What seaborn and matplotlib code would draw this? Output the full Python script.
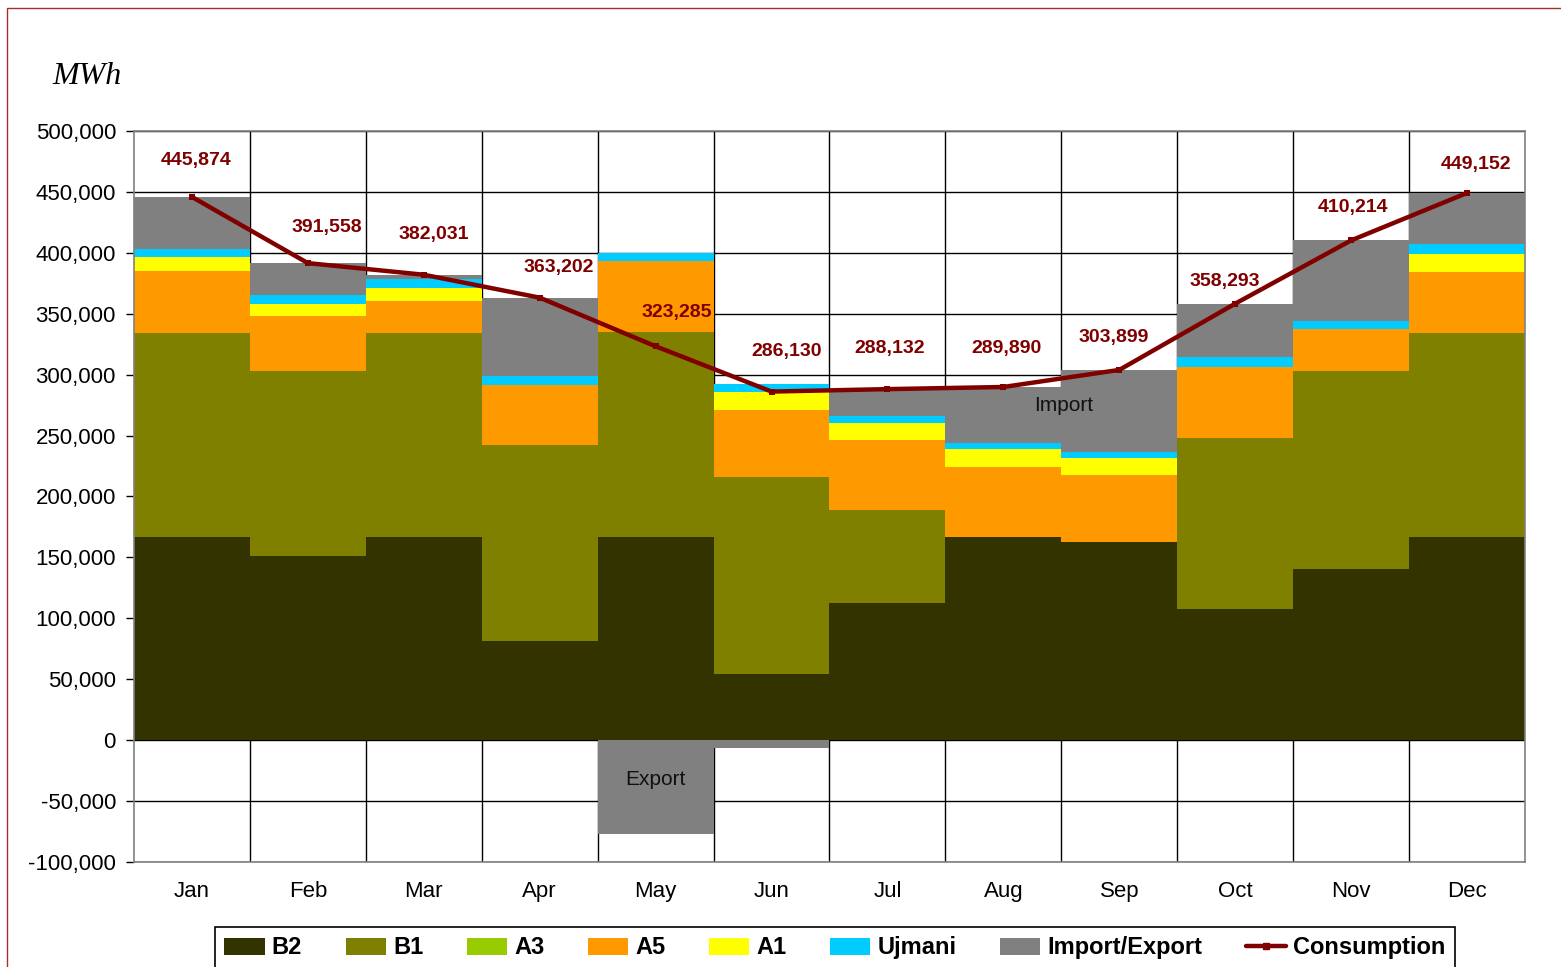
import numpy as np
import pandas as pd
import seaborn as sns
import matplotlib
matplotlib.use('Agg')
import matplotlib.pyplot as plt
from matplotlib.ticker import FuncFormatter, MultipleLocator
from matplotlib.patches import Patch, Rectangle
from matplotlib.lines import Line2D

# monthly energy balance (MWh)
months = ['Jan', 'Feb', 'Mar', 'Apr', 'May', 'Jun', 'Jul', 'Aug', 'Sep', 'Oct', 'Nov', 'Dec']
b2 = [166800, 151200, 166800, 81300, 166800, 54200, 112600, 166800, 162700, 107600, 140500, 166800]
b1 = [167600, 152000, 167600, 161100, 167900, 161900, 76400, 0, 0, 140600, 162700, 167600]
a3 = [0, 0, 0, 0, 0, 0, 0, 0, 0, 0, 0, 0]
a5 = [51000, 45200, 26300, 49300, 58300, 55100, 57500, 57500, 55000, 57700, 34500, 50200]
a1 = [11500, 9900, 10700, 0, 0, 14200, 14200, 14800, 14000, 0, 0, 14700]
ujmani = [6500, 6800, 7400, 7400, 6900, 7100, 5500, 4700, 4900, 8200, 6600, 8300]
consumption = [445874, 391558, 382031, 363202, 323285, 286130, 288132, 289890, 303899, 358293, 410214, 449152]

series_names = ['B2', 'B1', 'A3', 'A5', 'A1', 'Ujmani']
series_vals = [b2, b1, a3, a5, a1, ujmani]
colors = ['#333300', '#808000', '#99CC00', '#FF9900', '#FFFF00', '#00CCFF']
imp_color = '#808080'
line_color = '#800000'

df = pd.DataFrame(dict(zip(series_names, series_vals)), index=months)
df['Consumption'] = consumption
# import/export closes the balance against consumption
df['Import/Export'] = df['Consumption'] - df[series_names].sum(axis=1)

# label offsets (pixels) for the consumption values
lab_dx = [4, 19, 10, 19, 21, 15, 2, 3, -6, -10, 2, 9]
lab_dy = [36, 36, 40, 30, 34, 40, 41, 38, 32, 22, 33, 28]

sns.set_style('white')
plt.rcParams['font.family'] = ['Liberation Sans', 'DejaVu Sans']
plt.rcParams['text.color'] = 'black'
plt.rcParams['xtick.color'] = 'black'
plt.rcParams['ytick.color'] = 'black'

fig = plt.figure(figsize=(15.61, 9.67), dpi=100)
ax = fig.add_axes([134 / 1561, 1 - 862 / 967, (1525 - 134) / 1561, (862 - 131) / 967])

x = np.arange(len(months))
bottom = np.zeros(len(months))
for name, col in zip(series_names, colors):
    vals = df[name].values
    ax.bar(x, vals, width=1.0, bottom=bottom, color=col, linewidth=0, zorder=2)
    bottom = bottom + vals

ie = df['Import/Export'].values
ie_bottom = np.where(ie >= 0, bottom, 0)
ax.bar(x, ie, width=1.0, bottom=ie_bottom, color=imp_color, linewidth=0, zorder=2)

sns.lineplot(x=x, y=df['Consumption'].values, ax=ax, color=line_color, lw=3.2,
             marker='s', markersize=5, markeredgewidth=0, zorder=4)

for xi, v, dx, dy in zip(x, consumption, lab_dx, lab_dy):
    ax.annotate(f'{v:,}', (xi, v), xytext=(dx * 0.72, dy * 0.72), textcoords='offset points',
                ha='center', va='center', fontsize=14, fontweight='bold', color=line_color, zorder=5)

ax.text(7.52, 275000, 'Import', ha='center', va='center', fontsize=15, color='#111111', zorder=5)
ax.text(4.0, -32000, 'Export', ha='center', va='center', fontsize=15, color='#111111', zorder=5)

ax.set_xlim(-0.5, 11.5)
ax.set_ylim(-100000, 500000)
ax.yaxis.set_major_locator(MultipleLocator(50000))
ax.yaxis.set_major_formatter(FuncFormatter(lambda v, p: f'{int(v):,}'))
ax.set_xticks(x)
ax.set_xticklabels(months)
ax.set_xticks(np.arange(0.5, 11, 1), minor=True)

ax.set_axisbelow(True)
ax.grid(axis='y', which='major', color='#000000', lw=1.0)
ax.grid(axis='x', which='minor', color='#000000', lw=1.0)
ax.grid(axis='x', which='major', visible=False)

ax.tick_params(axis='y', which='major', direction='out', length=6, width=1, color='#000000',
               labelsize=16, pad=7, left=True, labelcolor='black')
ax.tick_params(axis='x', which='both', length=0, labelsize=16, pad=14, labelcolor='black')
for s in ax.spines.values():
    s.set_color('#808080')
    s.set_linewidth(1.2)
ax.set_xlabel('')
ax.set_ylabel('')

fig.text(52 / 1561, 1 - 77 / 967, 'MWh', family='Liberation Serif', style='italic',
         fontsize=23, ha='left', va='center')

handles = [Patch(facecolor=c, edgecolor='none') for c in colors]
handles.append(Patch(facecolor=imp_color, edgecolor='none'))
handles.append(Line2D([0], [0], color=line_color, lw=3.2, marker='s', markersize=5))
labels = series_names + ['Import/Export', 'Consumption']
leg = fig.legend(handles, labels, loc='upper center', bbox_to_anchor=(835 / 1561, 1 - 927 / 967),
                 ncol=8, frameon=True, fancybox=False, edgecolor='#000000', framealpha=1,
                 prop={'weight': 'bold', 'size': 17}, handlelength=1.7, handleheight=0.75,
                 handletextpad=0.3, columnspacing=1.85, borderpad=0.4, borderaxespad=0)
leg.get_frame().set_linewidth(1.2)

fig.patches.append(Rectangle((7 / 1561, -0.05), 1.1, 1 - 8 / 967 + 0.05, transform=fig.transFigure,
                             fill=False, edgecolor='#a03030', lw=1.0))

fig.savefig('out.png', dpi=100)
